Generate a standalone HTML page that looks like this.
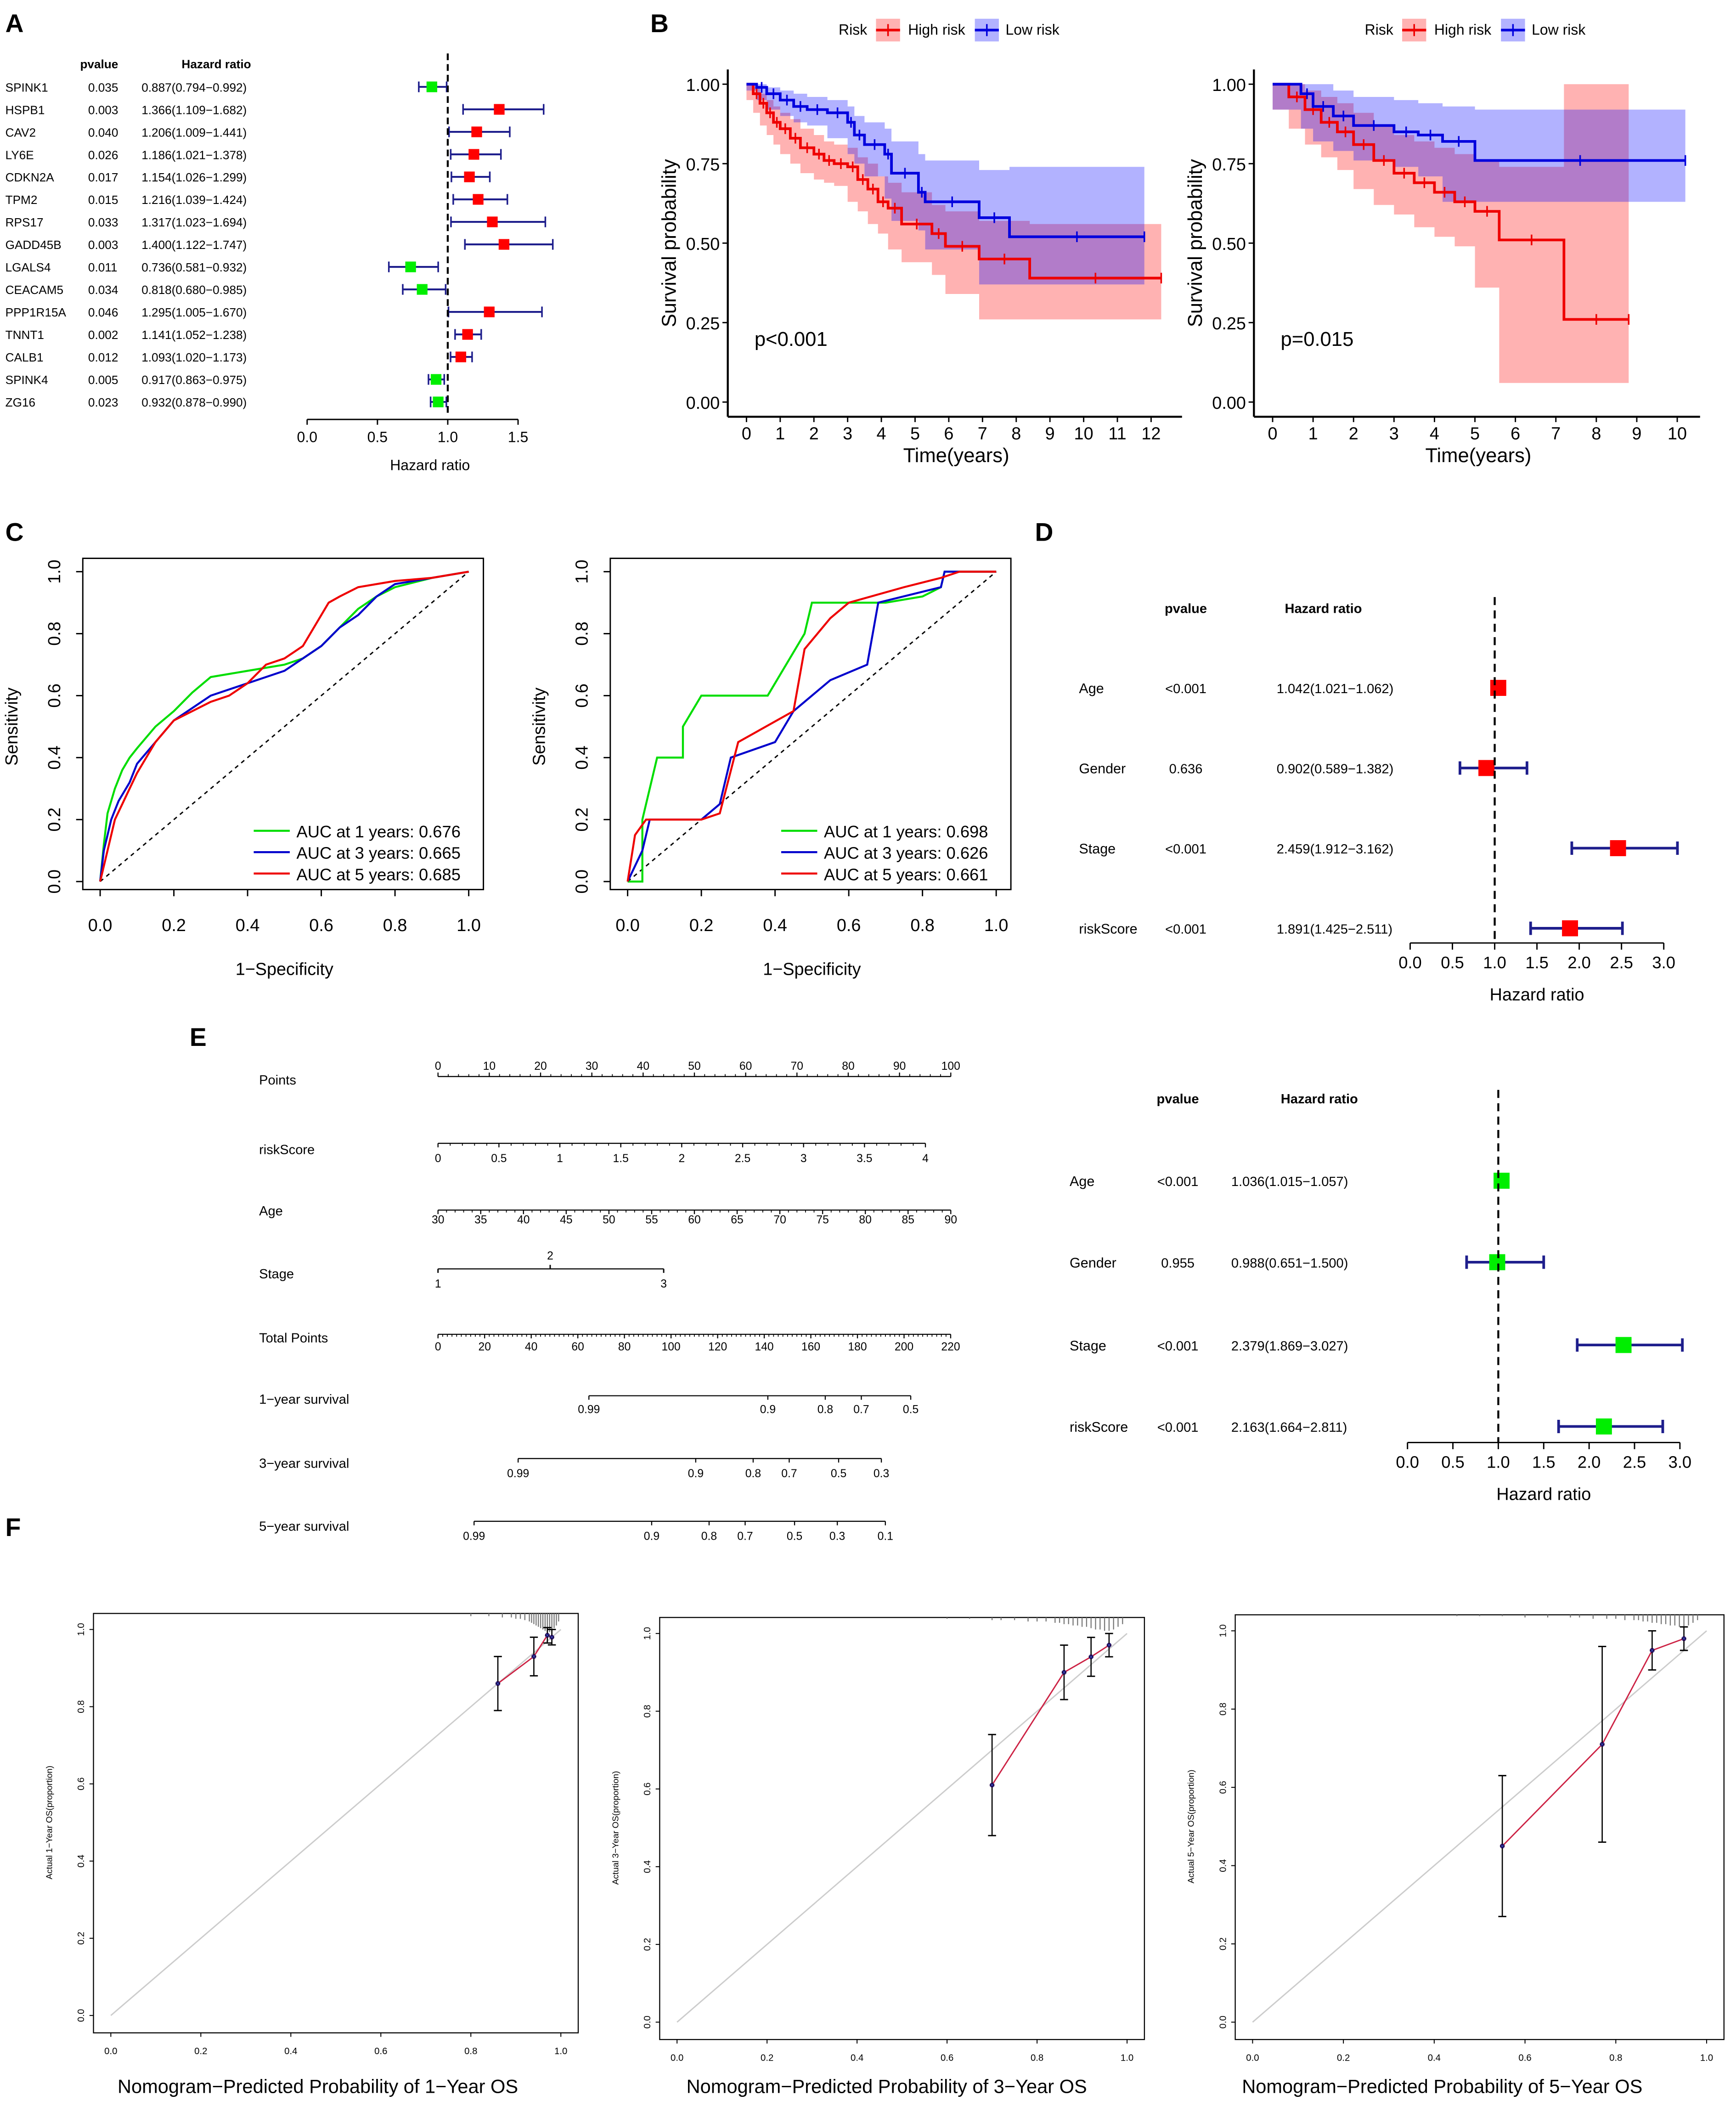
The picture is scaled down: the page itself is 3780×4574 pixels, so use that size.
<!DOCTYPE html>
<html><head><meta charset="utf-8"><style>
html,body{margin:0;padding:0;background:#fff}
svg{display:block;font-family:"Liberation Sans",Arial,sans-serif}
</style></head><body>
<svg id="fig" width="3780" height="4574" viewBox="0 0 1300 1573" xmlns="http://www.w3.org/2000/svg"></svg>
<script>
// ---------- DATA ----------
const genesA=["SPINK1","HSPB1","CAV2","LY6E","CDKN2A","TPM2","RPS17","GADD45B","LGALS4","CEACAM5","PPP1R15A","TNNT1","CALB1","SPINK4","ZG16"];
const pvalsA=["0.035","0.003","0.040","0.026","0.017","0.015","0.033","0.003","0.011","0.034","0.046","0.002","0.012","0.005","0.023"];
const hrA=[0.887,1.366,1.206,1.186,1.154,1.216,1.317,1.400,0.736,0.818,1.295,1.141,1.093,0.917,0.932];
const loA=[0.794,1.109,1.009,1.021,1.026,1.039,1.023,1.122,0.581,0.680,1.005,1.052,1.020,0.863,0.878];
const hiA=[0.992,1.682,1.441,1.378,1.299,1.424,1.694,1.747,0.932,0.985,1.670,1.238,1.173,0.975,0.990];

const kmL_hiT=[0,0.2,0.4,0.6,0.8,1,1.3,1.6,2,2.3,2.6,3,3.3,3.6,3.9,4.2,4.6,5.5,5.9,6.9,8.4,12.3];
const kmL_hiS=[1,0.97,0.94,0.91,0.88,0.86,0.83,0.80,0.78,0.76,0.75,0.74,0.70,0.67,0.63,0.61,0.56,0.53,0.49,0.45,0.39,0.39];
const kmL_hiLo=[1,0.95,0.91,0.87,0.84,0.81,0.78,0.75,0.72,0.70,0.69,0.68,0.63,0.60,0.56,0.53,0.48,0.44,0.40,0.34,0.26,0.26];
const kmL_hiUp=[1,0.99,0.97,0.95,0.93,0.91,0.89,0.86,0.84,0.82,0.81,0.80,0.77,0.75,0.71,0.69,0.66,0.62,0.60,0.57,0.56,0.56];
const kmL_loT=[0,0.3,0.6,1,1.4,1.8,2.4,3,3.2,3.5,4.1,4.3,5.1,5.3,6.9,7.8,11.8];
const kmL_loS=[1,0.99,0.97,0.95,0.93,0.92,0.91,0.88,0.84,0.81,0.78,0.72,0.66,0.63,0.58,0.52,0.52];
const kmL_loLo=[1,0.98,0.95,0.92,0.90,0.88,0.87,0.83,0.78,0.75,0.71,0.64,0.57,0.54,0.48,0.37,0.37];
const kmL_loUp=[1,1,0.99,0.98,0.97,0.96,0.95,0.93,0.90,0.88,0.86,0.82,0.78,0.76,0.73,0.74,0.74];
const kmR_hiT=[0,0.4,0.8,1.2,1.6,2,2.5,3,3.5,4,4.5,5,5.6,7.2,8.8];
const kmR_hiS=[1,0.96,0.92,0.88,0.85,0.81,0.76,0.72,0.69,0.66,0.63,0.60,0.51,0.26,0.26];
const kmR_hiLo=[1,0.92,0.86,0.81,0.77,0.73,0.67,0.62,0.59,0.55,0.52,0.49,0.36,0.06,0.06];
const kmR_hiUp=[1,1,0.98,0.96,0.94,0.91,0.87,0.84,0.82,0.80,0.78,0.76,0.74,1,1];
const kmR_loT=[0,0.7,1,1.5,2,3,3.6,4.2,5,10.2];
const kmR_loS=[1,0.97,0.93,0.90,0.87,0.85,0.84,0.82,0.76,0.76];
const kmR_loLo=[1,0.92,0.86,0.82,0.79,0.76,0.74,0.71,0.63,0.63];
const kmR_loUp=[1,1,1,0.98,0.96,0.95,0.94,0.93,0.92,0.92];

const rocL_gF=[0,0.01,0.02,0.04,0.06,0.08,0.1,0.15,0.2,0.25,0.3,0.4,0.5,0.55,0.6,0.65,0.7,0.75,0.8,0.9,1];
const rocL_gT=[0,0.12,0.22,0.3,0.36,0.4,0.43,0.5,0.55,0.61,0.66,0.68,0.7,0.72,0.76,0.82,0.88,0.92,0.95,0.98,1];
const rocL_bF=[0,0.01,0.03,0.05,0.08,0.1,0.15,0.2,0.25,0.3,0.35,0.4,0.5,0.55,0.6,0.65,0.7,0.75,0.8,0.9,1];
const rocL_bT=[0,0.1,0.2,0.26,0.32,0.38,0.45,0.52,0.56,0.6,0.62,0.64,0.68,0.72,0.76,0.82,0.86,0.92,0.96,0.98,1];
const rocL_rF=[0,0.02,0.04,0.06,0.1,0.15,0.2,0.25,0.3,0.35,0.4,0.45,0.5,0.55,0.6,0.62,0.65,0.7,0.8,0.9,1];
const rocL_rT=[0,0.1,0.2,0.25,0.35,0.45,0.52,0.55,0.58,0.6,0.64,0.7,0.72,0.76,0.86,0.9,0.92,0.95,0.97,0.98,1];
const rocR_gF=[0,0.04,0.04,0.08,0.15,0.15,0.2,0.38,0.48,0.5,0.7,0.8,0.85,0.86,1];
const rocR_gT=[0,0,0.2,0.4,0.4,0.5,0.6,0.6,0.8,0.9,0.9,0.92,0.95,1,1];
const rocR_bF=[0,0.04,0.06,0.2,0.25,0.28,0.4,0.45,0.5,0.55,0.65,0.68,0.85,0.86,1];
const rocR_bT=[0,0.1,0.2,0.2,0.25,0.4,0.45,0.55,0.6,0.65,0.7,0.9,0.95,1,1];
const rocR_rF=[0,0.02,0.05,0.2,0.25,0.3,0.45,0.48,0.55,0.6,0.75,0.85,0.9,1];
const rocR_rT=[0,0.15,0.2,0.2,0.22,0.45,0.55,0.75,0.85,0.9,0.95,0.98,1,1];

const varsD=["Age","Gender","Stage","riskScore"];
const pvalsD=["<0.001","0.636","<0.001","<0.001"];
const hrD=[1.042,0.902,2.459,1.891];const loD=[1.021,0.589,1.912,1.425];const hiD=[1.062,1.382,3.162,2.511];
const pvalsE=["<0.001","0.955","<0.001","<0.001"];
const hrE=[1.036,0.988,2.379,2.163];const loE=[1.015,0.651,1.869,1.664];const hiE=[1.057,1.500,3.027,2.811];

const cal1P=[0.86,0.94,0.97,0.98],cal1A=[0.86,0.93,0.985,0.98],cal1E=[0.07,0.05,0.02,0.02];
const cal3P=[0.70,0.86,0.92,0.96],cal3A=[0.61,0.90,0.94,0.97],cal3E=[0.13,0.07,0.05,0.03];
const cal5P=[0.55,0.77,0.88,0.95],cal5A=[0.45,0.71,0.95,0.98],cal5E=[0.18,0.25,0.05,0.03];

// ---------- HELPERS ----------
const NS="http://www.w3.org/2000/svg",svg=document.getElementById('fig');
function mk(tag,at,name,txt){const el=document.createElementNS(NS,tag);for(const k in at)el.setAttribute(k,at[k]);


if(txt!==undefined)el.textContent=txt;svg.appendChild(el);return el;}
function T(x,y,s,size,name,anchor,extra){return mk('text',Object.assign({x:x,y:y,'font-size':size,'text-anchor':anchor||'start',fill:'#000'},extra||{}),name,s);}
function L(x1,y1,x2,y2,name,st,w,dash){const a={x1,y1,x2,y2,stroke:st||'#000','stroke-width':w||1};if(dash)a['stroke-dasharray']=dash;return mk('line',a,name);}
function P(d,name,at){return mk('path',Object.assign({d:d,fill:'none'},at),name);}

// panel letters
[["A",4,24],["B",487,24],["C",4,405],["D",775,405],["E",142,783],["F",4,1150]].forEach(l=>T(l[1],l[2],l[0],19,'panel-label-'+l[0].toLowerCase(),'start',{'font-weight':'bold'}));

// ---------- A forest ----------
(function(){const x=v=>230+v*105.3,y=i=>65+i*16.85;
T(60,51,'pvalue',9,'pvalue-header','start',{'font-weight':'bold'});T(136,51,'Hazard ratio',9,'hr-header','start',{'font-weight':'bold'});
genesA.forEach((g,i)=>{T(4,y(i)+3.5,g,9,'gene-label');T(66,y(i)+3.5,pvalsA[i],9,'pvalue');T(106,y(i)+3.5,hrA[i].toFixed(3)+'('+loA[i].toFixed(3)+'−'+hiA[i].toFixed(3)+')',9,'hr-text');
const c='#1e1e8c';L(x(loA[i]),y(i),x(hiA[i]),y(i),'ci-line',c,1.4);L(x(loA[i]),y(i)-4,x(loA[i]),y(i)+4,'ci-cap',c,1.2);L(x(hiA[i]),y(i)-4,x(hiA[i]),y(i)+4,'ci-cap',c,1.2);
mk('rect',{x:x(hrA[i])-4,y:y(i)-4,width:8,height:8,fill:hrA[i]>1?'#ff0000':'#00ee00'},'hr-marker');});
L(x(1),40,x(1),310,'reference-line','#000',1.5,'5,3');
L(x(0),314,x(1.5),314,'x-axis');[0,0.5,1,1.5].forEach(v=>{L(x(v),314,x(v),318,'x-tick');T(x(v),331,v.toFixed(1),11,'x-tick-label','middle');});
T(322,352,'Hazard ratio',11,'x-axis-title','middle');})();

// ---------- B KM ----------
function km(x0,pxPer,tmax,ticks,hiT,hiS,hiLo,hiUp,loT,loS,loLo,loUp,ptxt,lx){
const x=t=>x0+t*pxPer,y=s=>301-s*238;
function band(T_,lo,up,col){let d='M'+x(T_[0])+','+y(up[0]);for(let i=1;i<T_.length;i++)d+='H'+x(T_[i])+'V'+y(up[i]);for(let i=T_.length-1;i>0;i--)d+='V'+y(lo[i])+'H'+x(T_[i-1]);d+='Z';P(d,'confidence-band',{fill:col,'fill-opacity':0.3,stroke:'none'});}
function step(T_,S,col,name){let d='M'+x(T_[0])+','+y(S[0]);for(let i=1;i<T_.length;i++)d+='H'+x(T_[i])+'V'+y(S[i]);P(d,name,{stroke:col,'stroke-width':2});
for(let i=1;i<T_.length-1;i++){const cx=(x(T_[i])+x(T_[i+1]))/2;L(cx,y(S[i])-4,cx,y(S[i])+4,'censor-mark',col,1.2);}L(x(T_[T_.length-1]),y(S[S.length-1])-4,x(T_[T_.length-1]),y(S[S.length-1])+4,'censor-mark',col,1.2);}
band(hiT,hiLo,hiUp,'#ff0000');band(loT,loLo,loUp,'#0000ff');step(hiT,hiS,'#ee0000','high-risk-curve');step(loT,loS,'#0000dd','low-risk-curve');
L(x0-14,52,x0-14,312,'y-axis','#000',1.5);L(x0-14,312,x(tmax)+8,312,'x-axis','#000',1.5);
[0,0.25,0.5,0.75,1].forEach(v=>{L(x0-18,y(v),x0-14,y(v),'y-tick');T(x0-20,y(v)+5,v.toFixed(2),13,'y-tick-label','end');});
ticks.forEach(v=>{L(x(v),312,x(v),316,'x-tick');T(x(v),329,String(v),13,'x-tick-label','middle');});
T(x((tmax)/2)-2,346,'Time(years)',15,'x-axis-title','middle');
T(0,0,'Survival probability',15,'y-axis-title','middle',{transform:'translate('+(x0-53)+',182) rotate(-90)'});
T(x0+6,259,ptxt,15,'p-value');
T(lx,26,'Risk',11,'legend-title');mk('rect',{x:lx+28,y:14,width:18,height:17,fill:'#ff0000','fill-opacity':0.3},'legend-swatch-high');L(lx+28,22.5,lx+46,22.5,'legend-line-high','#ee0000',2);L(lx+37,18,lx+37,27,'legend-cross','#ee0000',1.2);
T(lx+52,26,'High risk',11,'legend-label-high');mk('rect',{x:lx+102,y:14,width:18,height:17,fill:'#0000ff','fill-opacity':0.3},'legend-swatch-low');L(lx+102,22.5,lx+120,22.5,'legend-line-low','#0000dd',2);L(lx+111,18,lx+111,27,'legend-cross','#0000dd',1.2);
T(lx+125,26,'Low risk',11,'legend-label-low');}
km(559,25.25,12.6,[0,1,2,3,4,5,6,7,8,9,10,11,12],kmL_hiT,kmL_hiS,kmL_hiLo,kmL_hiUp,kmL_loT,kmL_loS,kmL_loLo,kmL_loUp,'p<0.001',628);
km(953,30.3,10.3,[0,1,2,3,4,5,6,7,8,9,10],kmR_hiT,kmR_hiS,kmR_hiLo,kmR_hiUp,kmR_loT,kmR_loS,kmR_loLo,kmR_loUp,'p=0.015',1022);

// ---------- C ROC ----------
function roc(x0,curves,aucs){const x=v=>x0+v*276,y=v=>660-v*232;
mk('rect',{x:x0-13,y:418,width:300,height:248,fill:'none',stroke:'#000','stroke-width':1},'plot-frame');
L(x(0),y(0),x(1),y(1),'diagonal','#000',1,'3,3');
const cols=['#00dd00','#0000cc','#ee0000'];
curves.forEach((c,k)=>{mk('polyline',{points:c[0].map((f,i)=>x(f)+','+y(c[1][i])).join(' '),fill:'none',stroke:cols[k],'stroke-width':1.5},'roc-curve');});
[0,0.2,0.4,0.6,0.8,1].forEach(v=>{L(x(v),666,x(v),671,'x-tick');T(x(v),697,v.toFixed(1),13,'x-tick-label','middle');
L(x0-13,y(v),x0-18,y(v),'y-tick');T(0,0,v.toFixed(1),13,'y-tick-label','middle',{transform:'translate('+(x0-30)+','+y(v)+') rotate(-90)'});});
T(x(0.5),730,'1−Specificity',13,'x-axis-title','middle');
T(0,0,'Sensitivity',13,'y-axis-title','middle',{transform:'translate('+(x0-62)+','+y(0.5)+') rotate(-90)'});
aucs.forEach((a,k)=>{L(x0+115,622+k*16,x0+142,622+k*16,'legend-line',cols[k],1.5);T(x0+147,627+k*16,'AUC at '+[1,3,5][k]+' years: '+a,12.5,'legend-label');});}
roc(75,[[rocL_gF,rocL_gT],[rocL_bF,rocL_bT],[rocL_rF,rocL_rT]],['0.676','0.665','0.685']);
roc(470,[[rocR_gF,rocR_gT],[rocR_bF,rocR_bT],[rocR_rF,rocR_rT]],['0.698','0.626','0.661']);

// ---------- D / E forests ----------
function forest(x0,ppu,rows,ax,ph,hh,hy,pv,hr,lo,hi,col,nameX,pX,hX){const x=v=>x0+v*ppu;
T(ph,hy,'pvalue',10,'pvalue-header','middle',{'font-weight':'bold'});T(hh,hy,'Hazard ratio',10,'hr-header','middle',{'font-weight':'bold'});
varsD.forEach((n,i)=>{const yy=rows[i];T(nameX,yy+4,n,10.5,'variable-label');T(pX,yy+4,pv[i],10,'pvalue','middle');T(hX,yy+4,hr[i].toFixed(3)+'('+lo[i].toFixed(3)+'−'+hi[i].toFixed(3)+')',10,'hr-text');
L(x(lo[i]),yy,x(hi[i]),yy,'ci-line','#1e1e8c',2);L(x(lo[i]),yy-5,x(lo[i]),yy+5,'ci-cap','#1e1e8c',2);L(x(hi[i]),yy-5,x(hi[i]),yy+5,'ci-cap','#1e1e8c',2);
mk('rect',{x:x(hr[i])-6,y:yy-6,width:12,height:12,fill:col},'hr-marker');});
L(x(1),rows[0]-68,x(1),ax,'reference-line','#000',1.5,'6,4');
L(x(0),ax,x(3),ax,'x-axis');[0,0.5,1,1.5,2,2.5,3].forEach(v=>{L(x(v),ax,x(v),ax+5,'x-tick');T(x(v),ax+19,v.toFixed(1),12.5,'x-tick-label','middle');});
T(x(1.5),ax+43,'Hazard ratio',13,'x-axis-title','middle');}
forest(1056,63.3,[515,575,635,695],706,888,991,459,pvalsD,hrD,loD,hiD,'#ff0000',808,888,956);
forest(1054,68,[884,945,1007,1068],1080,882,988,826,pvalsE,hrE,loE,hiE,'#00ee00',801,882,922);

// ---------- E nomogram ----------
(function(){
const rowsN=[["Points",808],["riskScore",860],["Age",906],["Stage",953],["Total Points",1001],["1−year survival",1047],["3−year survival",1095],["5−year survival",1142]];
rowsN.forEach(r=>T(194,r[1]+4,r[0],10,'nomogram-row-label'));
function axis(ax,vals,pos,lblY,minor,name){L(pos[0],ax,pos[pos.length-1],ax,name+'-axis','#000',0.8);
vals.forEach((v,i)=>{L(pos[i],ax,pos[i],lblY<ax?ax-3:ax+3,name+'-tick','#000',0.8);T(pos[i],lblY,v,8.5,name+'-tick-label','middle');});
if(minor){for(let i=0;i<pos.length-1;i++)for(let k=1;k<minor;k++){const px=pos[i]+(pos[i+1]-pos[i])*k/minor;L(px,ax,px,lblY<ax?ax-1.8:ax+1.8,name+'-minor-tick','#000',0.6);}}}
const ptsV=[0,10,20,30,40,50,60,70,80,90,100];axis(806,ptsV,ptsV.map(v=>328+v*3.84),801,5,'points');
const rsV=[0,0.5,1,1.5,2,2.5,3,3.5,4];axis(856,rsV,rsV.map(v=>328+v*91.25),870,5,'riskscore');
const ageV=[30,35,40,45,50,55,60,65,70,75,80,85,90];axis(906,ageV,ageV.map(v=>328+(v-30)*6.4),916,5,'age');
L(328,950,497,950,'stage-axis','#000',0.8);[[1,328,964],[3,497,964]].forEach(s=>{L(s[1],950,s[1],953,'stage-tick');T(s[1],s[2],String(s[0]),8.5,'stage-tick-label','middle');});L(412,950,412,947,'stage-tick');T(412,943,'2',8.5,'stage-tick-label','middle');
const tpV=[0,20,40,60,80,100,120,140,160,180,200,220];axis(999,tpV,tpV.map(v=>328+v*1.745),1011,10,'total-points');
const s1=["0.99","0.9","0.8","0.7","0.5"];axis(1045,s1,[441,575,618,645,682],1058,0,'one-year');
const s3=["0.99","0.9","0.8","0.7","0.5","0.3"];axis(1092,s3,[388,521,564,591,628,660],1106,0,'three-year');
const s5=["0.99","0.9","0.8","0.7","0.5","0.3","0.1"];axis(1139,s5,[355,488,531,558,595,627,663],1153,0,'five-year');})();

// ---------- F calibration ----------
const rug1=[0.80,0.84,0.87,0.89,0.9,0.91,0.92,0.93,0.935,0.94,0.945,0.95,0.955,0.96,0.965,0.97,0.975,0.98,0.985,0.99,0.995];
const rug3=[0.6,0.65,0.7,0.72,0.75,0.78,0.8,0.82,0.84,0.85,0.86,0.87,0.88,0.89,0.9,0.91,0.92,0.93,0.94,0.95,0.96,0.97,0.98,0.99];
const rug5=[0.45,0.5,0.55,0.6,0.65,0.7,0.72,0.75,0.78,0.8,0.82,0.84,0.85,0.86,0.87,0.88,0.89,0.9,0.91,0.92,0.93,0.94,0.95,0.96,0.97,0.98];
const rugH1=[2,2,3,3,4,4,5,6,7,8,9,10,11,12,13,14,14,13,11,9,6];
const rugH3=[1,1,2,2,2,3,3,3,4,4,5,5,6,6,7,7,8,9,9,10,10,9,7,5];
const rugH5=[1,1,1,2,2,2,2,3,3,3,4,4,4,5,5,6,6,7,7,8,8,9,9,8,6,4];
function cal(x0,x1,y0,y1,P_,A_,E_,rug,rugH,n,lc){const x=v=>x0+v*(x1-x0),y=v=>y0-v*(y0-y1);
mk('rect',{x:x0-13,y:y1-12,width:(x1-x0)+26,height:(y0-y1)+25,fill:'none',stroke:'#000','stroke-width':0.8},'plot-frame');
L(x(0),y(0),x(1),y(1),'ideal-line','#ccc',1);
rug.forEach((r,i)=>L(x(r),y1-12,x(r),y1-12+rugH[i],'rug-line','#777',0.8));
mk('polyline',{points:P_.map((p,i)=>x(p)+','+y(A_[i])).join(' '),fill:'none',stroke:'#cc2244','stroke-width':1},'calibration-line');
P_.forEach((p,i)=>{L(x(p),y(A_[i]-E_[i]),x(p),y(A_[i]+E_[i]),'error-bar','#000',0.9);L(x(p)-3,y(A_[i]-E_[i]),x(p)+3,y(A_[i]-E_[i]),'error-cap');L(x(p)-3,y(A_[i]+E_[i]),x(p)+3,y(A_[i]+E_[i]),'error-cap');
mk('circle',{cx:x(p),cy:y(A_[i]),r:1.8,fill:'#220044'},'calibration-point');T(x(p),y(A_[i])+2,'×',6,'bias-corrected-point','middle',{fill:'#3355cc'});});
[0,0.2,0.4,0.6,0.8,1].forEach(v=>{L(x(v),y0+13,x(v),y0+16,'x-tick','#000',0.7);T(x(v),y0+29,v.toFixed(1),7,'x-tick-label','middle');
L(x0-13,y(v),x0-16,y(v),'y-tick','#000',0.7);T(0,0,v.toFixed(1),7,'y-tick-label','middle',{transform:'translate('+(x0-20)+','+y(v)+') rotate(-90)'});});
T(0,0,'Actual '+n+'−Year OS(proportion)',6.5,'y-axis-title','middle',{transform:'translate('+(x0-44)+','+y(0.5)+') rotate(-90)'});
T(lc,1567,'Nomogram−Predicted Probability of '+n+'−Year OS',14.3,'x-axis-title','middle');}
cal(83,420,1509,1220,cal1P,cal1A,cal1E,rug1,rugH1,1,238);
cal(507,844,1514,1223,cal3P,cal3A,cal3E,rug3,rugH3,3,664);
cal(938,1278,1514,1221,cal5P,cal5A,cal5E,rug5,rugH5,5,1080);
</script>
</body></html>
